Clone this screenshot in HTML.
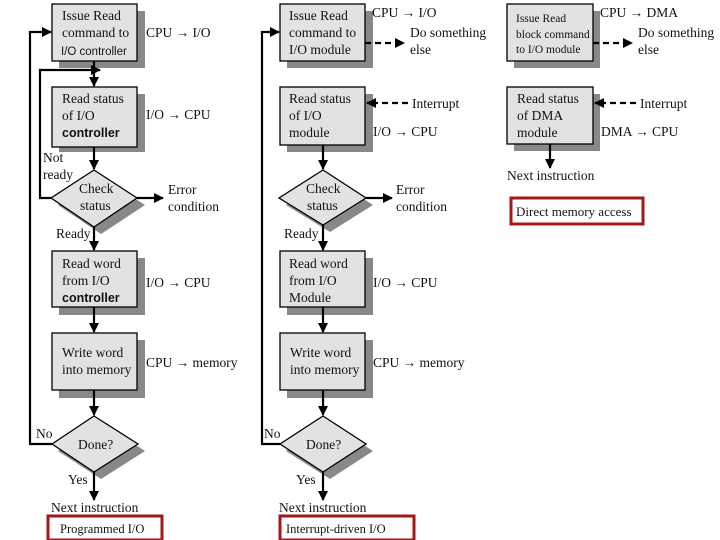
<!DOCTYPE html>
<html><head><meta charset="utf-8"><style>
html,body{margin:0;padding:0;background:#fff;width:720px;height:540px;overflow:hidden}
svg text{font-family:"Liberation Serif",serif;font-size:13.5px;fill:#111}
.s{font-family:"Liberation Sans",sans-serif;font-size:11.5px}
.sb{font-family:"Liberation Sans",sans-serif;font-size:12.5px;font-weight:bold}
</style></head><body>
<svg width="720" height="540" viewBox="0 0 720 540" xmlns="http://www.w3.org/2000/svg">
<defs>
<marker id="a" markerWidth="10" markerHeight="10" refX="9" refY="5" orient="auto" markerUnits="userSpaceOnUse"><path d="M0,0 L10,5 L0,10 z" fill="#000"/></marker>
</defs>
<g fill="#888">
<rect x="59" y="11" width="86" height="57"/>
<rect x="59" y="94" width="86" height="58"/>
<polygon points="101,177 145,205 101,234 58,205"/>
<rect x="59" y="258" width="86" height="57"/>
<rect x="59" y="340" width="86" height="58"/>
<polygon points="101,423 145,451 101,479 58,451"/>
<rect x="287" y="11" width="86" height="57"/>
<rect x="287" y="94" width="86" height="58"/>
<polygon points="330,177 373,205 330,232 286,205"/>
<rect x="287" y="258" width="86" height="57"/>
<rect x="287" y="340" width="86" height="58"/>
<polygon points="330,423 373,451 330,479 286,451"/>
<rect x="514" y="11" width="86" height="57"/>
<rect x="514" y="94" width="86" height="57"/>
</g>
<g fill="#e2e2e2" stroke="#000" stroke-width="1.3">
<rect x="52" y="4" width="85" height="57"/>
<rect x="52" y="87" width="85" height="60"/>
<polygon points="94,170 137,198 94,227 51,198"/>
<rect x="52" y="251" width="85" height="56"/>
<rect x="52" y="333" width="85" height="57"/>
<polygon points="94,416 138,444 94,472 52,444"/>
<rect x="280" y="4" width="85" height="57"/>
<rect x="280" y="87" width="85" height="58"/>
<polygon points="323,170 366,198 323,225 279,198"/>
<rect x="280" y="251" width="85" height="56"/>
<rect x="280" y="333" width="85" height="57"/>
<polygon points="323,416 366,444 323,472 280,444"/>
<rect x="507" y="4" width="86" height="57"/>
<rect x="507" y="87" width="86" height="57"/>
</g>
<g stroke="#000" stroke-width="2.2" fill="none">
<line x1="94" y1="61" x2="94" y2="86" marker-end="url(#a)"/>
<polyline points="51,198 40,198 40,70 100,70" marker-end="url(#a)"/>
<line x1="94" y1="147" x2="94" y2="169" marker-end="url(#a)"/>
<line x1="137" y1="198" x2="163" y2="198" marker-end="url(#a)"/>
<line x1="94" y1="227" x2="94" y2="250" marker-end="url(#a)"/>
<line x1="94" y1="307" x2="94" y2="332" marker-end="url(#a)"/>
<line x1="94" y1="390" x2="94" y2="415" marker-end="url(#a)"/>
<polyline points="52,444 30,444 30,32 51,32" marker-end="url(#a)"/>
<line x1="94" y1="472" x2="94" y2="500" marker-end="url(#a)"/>
<line x1="323" y1="145" x2="323" y2="169" marker-end="url(#a)"/>
<line x1="366" y1="198" x2="392" y2="198" marker-end="url(#a)"/>
<line x1="323" y1="225" x2="323" y2="250" marker-end="url(#a)"/>
<line x1="323" y1="307" x2="323" y2="332" marker-end="url(#a)"/>
<line x1="323" y1="390" x2="323" y2="415" marker-end="url(#a)"/>
<polyline points="280,444 262,444 262,32 279,32" marker-end="url(#a)"/>
<line x1="323" y1="472" x2="323" y2="500" marker-end="url(#a)"/>
<line x1="550" y1="144" x2="550" y2="168" marker-end="url(#a)"/>
</g>
<g stroke="#000" stroke-width="2.2" fill="none" stroke-dasharray="6,4">
<line x1="365" y1="43" x2="404" y2="43" marker-end="url(#a)"/>
<line x1="408" y1="103" x2="367" y2="103" marker-end="url(#a)"/>
<line x1="593" y1="43" x2="632" y2="43" marker-end="url(#a)"/>
<line x1="636" y1="103" x2="595" y2="103" marker-end="url(#a)"/>
</g>
<g fill="none" stroke="#a01818" stroke-width="3">
<rect x="48" y="516" width="114" height="24"/>
<rect x="280" y="516" width="134" height="24"/>
<rect x="511" y="198" width="132" height="26"/>
</g>
<text x="62" y="20">Issue Read</text>
<text x="62" y="37">command to</text>
<text x="61" y="55" class="s">I/O controller</text>
<text x="146" y="37">CPU → I/O</text>
<text x="62" y="103">Read status</text>
<text x="62" y="120">of I/O</text>
<text x="62" y="137" class="sb">controller</text>
<text x="146" y="119">I/O → CPU</text>
<text x="43" y="162">Not</text>
<text x="43" y="179">ready</text>
<text x="79" y="193">Check</text>
<text x="80" y="210">status</text>
<text x="168" y="194">Error</text>
<text x="168" y="211">condition</text>
<text x="56" y="238">Ready</text>
<text x="62" y="268">Read word</text>
<text x="62" y="285">from I/O</text>
<text x="62" y="302" class="sb">controller</text>
<text x="146" y="287">I/O → CPU</text>
<text x="62" y="357">Write word</text>
<text x="62" y="374">into memory</text>
<text x="146" y="367">CPU → memory</text>
<text x="36" y="438">No</text>
<text x="78" y="449">Done?</text>
<text x="68" y="484">Yes</text>
<text x="51" y="512">Next instruction</text>
<text x="60" y="533" style="font-size:12.5px">Programmed I/O</text>
<text x="289" y="20">Issue Read</text>
<text x="289" y="37">command to</text>
<text x="289" y="54">I/O module</text>
<text x="372" y="17">CPU → I/O</text>
<text x="410" y="37">Do something</text>
<text x="410" y="54">else</text>
<text x="289" y="103">Read status</text>
<text x="289" y="120">of I/O</text>
<text x="289" y="137">module</text>
<text x="412" y="108">Interrupt</text>
<text x="373" y="136">I/O → CPU</text>
<text x="306" y="193">Check</text>
<text x="307" y="210">status</text>
<text x="396" y="194">Error</text>
<text x="396" y="211">condition</text>
<text x="284" y="238">Ready</text>
<text x="289" y="268">Read word</text>
<text x="289" y="285">from I/O</text>
<text x="289" y="302">Module</text>
<text x="373" y="287">I/O → CPU</text>
<text x="290" y="357">Write word</text>
<text x="290" y="374">into memory</text>
<text x="373" y="367">CPU → memory</text>
<text x="264" y="438">No</text>
<text x="306" y="449">Done?</text>
<text x="296" y="484">Yes</text>
<text x="279" y="512">Next instruction</text>
<text x="286" y="533" style="font-size:12.5px">Interrupt-driven I/O</text>
<text x="516" y="22" style="font-size:11.5px">Issue Read</text>
<text x="516" y="38" style="font-size:11.5px">block command</text>
<text x="516" y="53" style="font-size:11.5px">to I/O module</text>
<text x="600" y="17">CPU → DMA</text>
<text x="638" y="37">Do something</text>
<text x="638" y="54">else</text>
<text x="517" y="103">Read status</text>
<text x="517" y="120">of DMA</text>
<text x="517" y="137">module</text>
<text x="640" y="108">Interrupt</text>
<text x="601" y="136">DMA → CPU</text>
<text x="507" y="180">Next instruction</text>
<text x="516" y="216" style="font-size:13px">Direct memory access</text>
</svg>
</body></html>
